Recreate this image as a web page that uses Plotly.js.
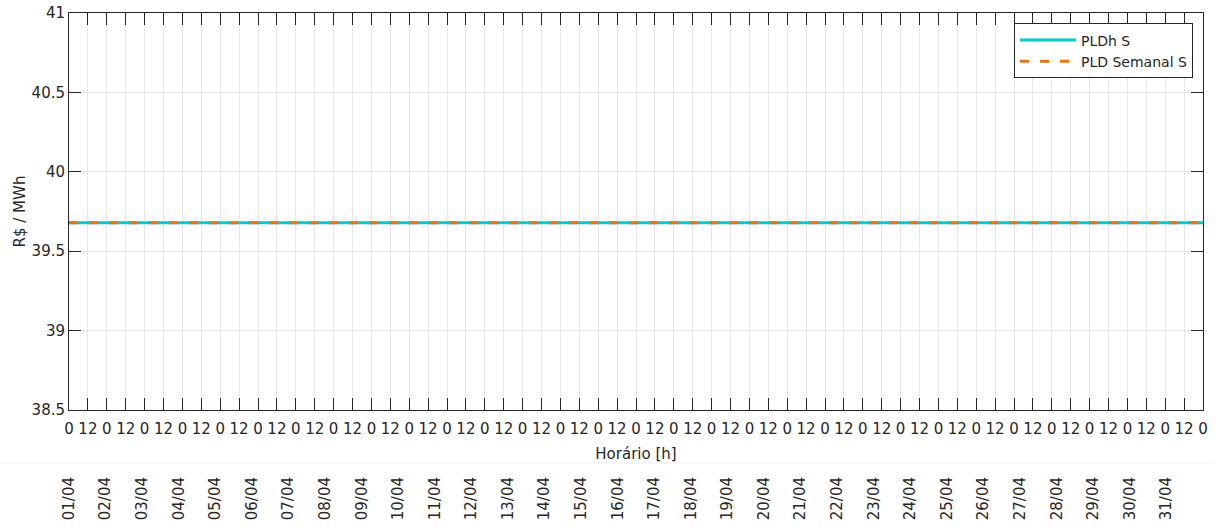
<!DOCTYPE html>
<html><head><meta charset="utf-8">
<script src="https://cdn.plot.ly/plotly-3.0.1.min.js"></script>
<style>html,body{margin:0;padding:0;background:#fff}#chart{width:1218px;height:529px}</style>
</head><body><div id="chart"></div>
<script>
// Data (flat price over the month)
const pldhHours = [0, 720];
const pldhValues = [39.68, 39.68];
const semanalHours = [0, 720];
const semanalValues = [39.68, 39.68];

// Hour ticks every 12 h, labelled 0 / 12
const hourTickVals = [];
const hourTickText = [];
for (let h = 0; h <= 720; h += 12) { hourTickVals.push(h); hourTickText.push(h % 24 === 0 ? '0' : '12'); }

// Day labels (second axis)
const dayLabels = ['01/04','02/04','03/04','04/04','05/04','06/04','07/04','08/04','09/04','10/04',
  '11/04','12/04','13/04','14/04','15/04','16/04','17/04','18/04','19/04','20/04',
  '21/04','22/04','23/04','24/04','25/04','26/04','27/04','28/04','29/04','30/04','31/04'];
const dayTickVals = dayLabels.map((_, i) => i * 24);

const yTickVals = [38.5, 39, 39.5, 40, 40.5, 41];
const yTickText = ['38.5', '39', '39.5', '40', '40.5', '41'];

const FONT = 'DejaVu Sans, Liberation Sans, sans-serif';
const TXT = '#262626';

const traces = [
  { x: pldhHours, y: pldhValues, type: 'scatter', mode: 'lines', name: 'PLDh S',
    line: { color: '#00cccc', width: 3 }, hoverinfo: 'skip' },
  { x: semanalHours, y: semanalValues, type: 'scatter', mode: 'lines', name: 'PLD Semanal S',
    line: { color: '#e8740c', width: 3, dash: '9px,11px' }, hoverinfo: 'skip' },
  { x: [0, 744], y: [null, null], xaxis: 'x2', yaxis: 'y', type: 'scatter', mode: 'lines',
    showlegend: false, hoverinfo: 'skip' }
];

const plotBottom = 410, plotTop = 12.5, marginB = 64;
const areaH = 529 - plotTop - marginB;
const yDom0 = (529 - marginB - plotBottom) / areaH;

const layout = {
  width: 1218, height: 529,
  margin: { l: 69, r: 15, t: plotTop, b: marginB, pad: 0 },
  paper_bgcolor: '#ffffff', plot_bgcolor: '#ffffff',
  font: { family: FONT, size: 15, color: TXT },
  showlegend: true,
  xaxis: {
    range: [0, 720], domain: [0, 1], anchor: 'y',
    tickmode: 'array', tickvals: hourTickVals, ticktext: hourTickText, tickangle: 0,
    ticks: 'inside', ticklen: 12, tickwidth: 1, tickcolor: '#262626',
    showline: true, linecolor: '#262626', linewidth: 1, mirror: 'ticks',
    showgrid: true, gridcolor: '#e6e6e6', gridwidth: 1, zeroline: false,
    tickfont: { family: FONT, size: 15, color: TXT }, ticklabelstandoff: 5,
    title: { text: 'Horário [h]', font: { family: FONT, size: 15, color: TXT }, standoff: 11 },
    automargin: false
  },
  xaxis2: {
    range: [0, 744], domain: [0, 1], anchor: 'free', position: 0, overlaying: 'x', side: 'bottom',
    tickmode: 'array', tickvals: dayTickVals, ticktext: dayLabels, tickangle: -90,
    ticks: '', showline: false, showgrid: false, zeroline: false, ticklabelstandoff: 8,
    tickfont: { family: FONT, size: 15, color: TXT }, automargin: false
  },
  yaxis: {
    range: [38.5, 41], domain: [yDom0, 1],
    tickmode: 'array', tickvals: yTickVals, ticktext: yTickText,
    ticks: 'inside', ticklen: 12, tickwidth: 1, tickcolor: '#262626',
    showline: true, linecolor: '#262626', linewidth: 1, mirror: 'ticks',
    showgrid: true, gridcolor: '#e6e6e6', gridwidth: 1, zeroline: false,
    tickfont: { family: FONT, size: 15, color: TXT },
    title: { text: 'R$ / MWh', font: { family: FONT, size: 15, color: TXT }, standoff: 2 },
    automargin: false
  },
  legend: {
    x: (1014 - 69) / 1134, y: (529 - marginB - 23) / areaH, xanchor: 'left', yanchor: 'top',
    bgcolor: '#ffffff', bordercolor: '#262626', borderwidth: 1,
    font: { family: FONT, size: 14, color: TXT }, itemwidth: 56, tracegroupgap: 0
  },
  shapes: [
    { type: 'line', xref: 'paper', yref: 'paper', x0: -69 / 1134, x1: (1210 - 69) / 1134,
      y0: (529 - marginB - 463) / areaH, y1: (529 - marginB - 463) / areaH,
      line: { color: '#f0f0f0', width: 1 }, layer: 'below' }
  ]
};

Plotly.newPlot('chart', traces, layout, { displayModeBar: false, staticPlot: true });
</script>
</body></html>
